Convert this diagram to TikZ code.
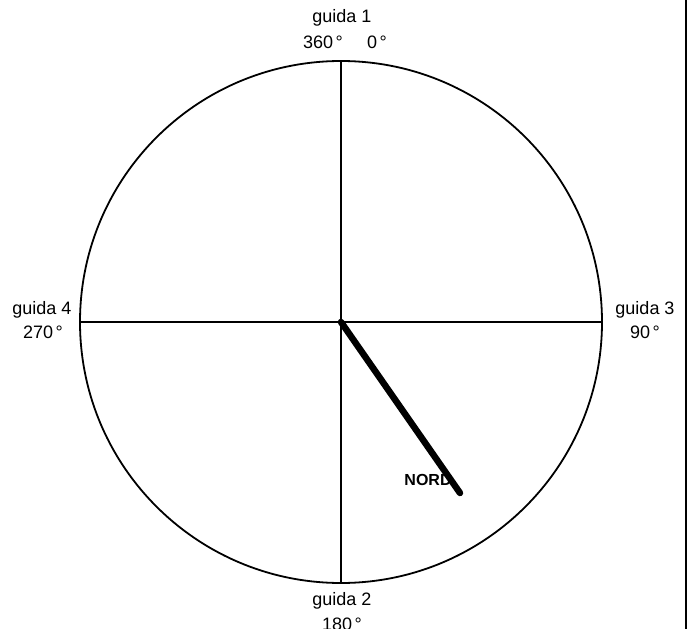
\documentclass[tikz,border=0pt]{standalone}
\usepackage{fontspec}
\setmainfont{Liberation Sans}
\begin{document}
\begin{tikzpicture}[x=1pt,y=-1pt,
  lbl/.style={inner sep=0pt,font=\fontsize{18}{20}\selectfont},
  ring/.style={line width=1.8pt},
  axis/.style={line width=1.6pt},
  needle/.style={line width=6.5pt,line cap=round}]
\useasboundingbox (0,0) rectangle (691,629);
\coordinate (c) at (341,322);
\draw[ring] (c) circle[radius=261];
\coordinate (top) at (341,61);
\coordinate (bot) at (341,583);
\coordinate (lft) at (80,322);
\coordinate (rgt) at (602,322);
\draw[axis] (top) -- (bot);
\draw[axis] (lft) -- (rgt);
\coordinate (r1) at (686,0);
\coordinate (r2) at (686,629);
\draw[line width=2pt] (r1) -- (r2);
\node[lbl] (g1) at (342,18) {guida 1};
\node[lbl] (d360) at (323,42) {360\kern2.5pt°};
\node[lbl] (d0) at (377,42) {0\kern2.5pt°};
\node[lbl] (g4) at (42,310) {guida 4};
\node[lbl] (d270) at (43,332) {270\kern2.5pt°};
\node[lbl] (g3) at (645,310) {guida 3};
\node[lbl] (d90) at (645,332) {90\kern2.5pt°};
\node[lbl] (g2) at (342,601) {guida 2};
\node[lbl] (d180) at (342,624) {180\kern2.5pt°};
\node[inner sep=0pt,font=\fontsize{16}{18}\selectfont\bfseries] (nord) at (428,480) {NORD};
\coordinate (tip) at (460,493);
\draw[needle] (c) -- (tip);
\end{tikzpicture}
\end{document}
